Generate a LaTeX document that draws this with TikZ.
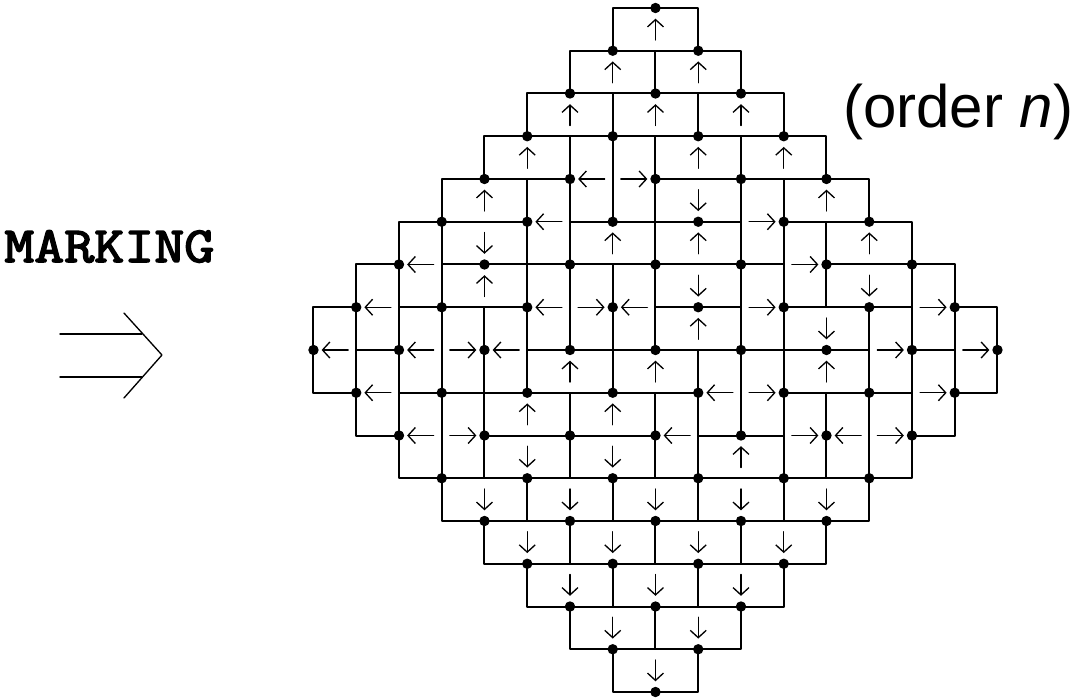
\documentclass[tikz,border=0pt]{standalone}
\usepackage{fontspec}
\setmainfont{Liberation Sans}
\usetikzlibrary{arrows.meta}

% testo "grassetto" ottenuto con riempimento + contorno
\newcommand{\grassetto}[1]{\special{pdf:literal 2 Tr 1.1 w}#1\special{pdf:literal 0 Tr}}

\begin{document}
\begin{tikzpicture}[x=32.0625pt,y=32.0625pt,line join=round,line cap=round,
    punto/.style={circle,fill,inner sep=0pt,minimum size=7.8pt},
    lato/.style={line width=1.5pt},
    freccia/.style={line width=1pt,-{Straight Barb[length=5.5pt,width=12pt]}},
    doppia/.style={line width=1pt}]

  \useasboundingbox (-15.333,-8.140) rectangle (9.813,8.187);

  % ---- domino orizzontali: (u sinistra, v basso, verso) ------------------
  \foreach \a/\b/\d in {-1/7/1, -2/6/1, 0/6/1, -3/5/1, -1/5/1, 1/5/1,
      -4/4/1, 0/4/1, 2/4/1, -5/3/1, 0/3/-1, 3/3/1,
      -5/2/-1, -2/2/1, 0/2/1, 4/2/1, -5/1/1, 0/1/-1, 4/1/-1,
      0/0/1, 3/0/-1, -3/-1/1, -1/-1/1, 3/-1/1, -4/-2/1, -2/-2/1,
      -4/-3/-1, -2/-3/-1, 1/-3/1,
      -5/-4/-1, -3/-4/-1, -1/-4/-1, 1/-4/-1, 3/-4/-1,
      -4/-5/-1, -2/-5/-1, 0/-5/-1, 2/-5/-1,
      -3/-6/-1, -1/-6/-1, 1/-6/-1, -2/-7/-1, 0/-7/-1, -1/-8/-1}{
    \draw[lato] (\a,\b) rectangle ++(2,1);
    \draw[freccia] ({\a+1},{\b+0.5-0.25*\d}) -- ({\a+1},{\b+0.5+0.25*\d});
  }

  % ---- domino verticali: (u sinistra, v basso, verso) --------------------
  \foreach \a/\b/\d in {-2/3/-1, -1/3/1, -3/2/-1, 2/2/1, -6/1/-1, 3/1/1,
      -7/0/-1, -3/0/-1, -2/0/1, -1/0/-1, 2/0/1, 6/0/1,
      -8/-1/-1, -6/-1/-1, -5/-1/1, -4/-1/-1, 5/-1/1, 7/-1/1,
      -7/-2/-1, 1/-2/-1, 2/-2/1, 6/-2/1,
      -6/-3/-1, -5/-3/1, 0/-3/-1, 3/-3/1, 4/-3/-1, 5/-3/1}{
    \draw[lato] (\a,\b) rectangle ++(1,2);
    \draw[freccia] ({\a+0.5-0.31*\d},{\b+1}) -- ({\a+0.5+0.31*\d},{\b+1});
  }

  % ---- i punti del reticolo ----------------------------------------------
  \foreach \u in {-8,...,8}
    \foreach \v in {-8,...,8}{
      \pgfmathtruncatemacro\ok{and(abs(\u)+abs(\v)<9,iseven(\u+\v))}
      \ifnum\ok=1 \node[punto] (p\u_\v) at (\u,\v) {}; \fi
    }

  % ---- scritte e freccia doppia ------------------------------------------
  \node[anchor=base west,inner sep=0pt,xscale=1.15,
        font=\fontsize{38}{40}\selectfont\ttfamily] (marca) at (-15.240,2.058) {\grassetto{MARKING}};
  \node[anchor=base west,inner sep=0pt,
        font=\fontsize{45}{48}\selectfont] (ordine) at (4.386,5.193) {(order \textit{n})};

  \draw[doppia] (-13.930,0.374) -- (-12.012,0.374);
  \draw[doppia] (-13.930,-0.632) -- (-12.012,-0.632);
  \draw[doppia] (-12.433,0.865) -- (-11.544,-0.117) -- (-12.433,-1.123);

\end{tikzpicture}
\end{document}
